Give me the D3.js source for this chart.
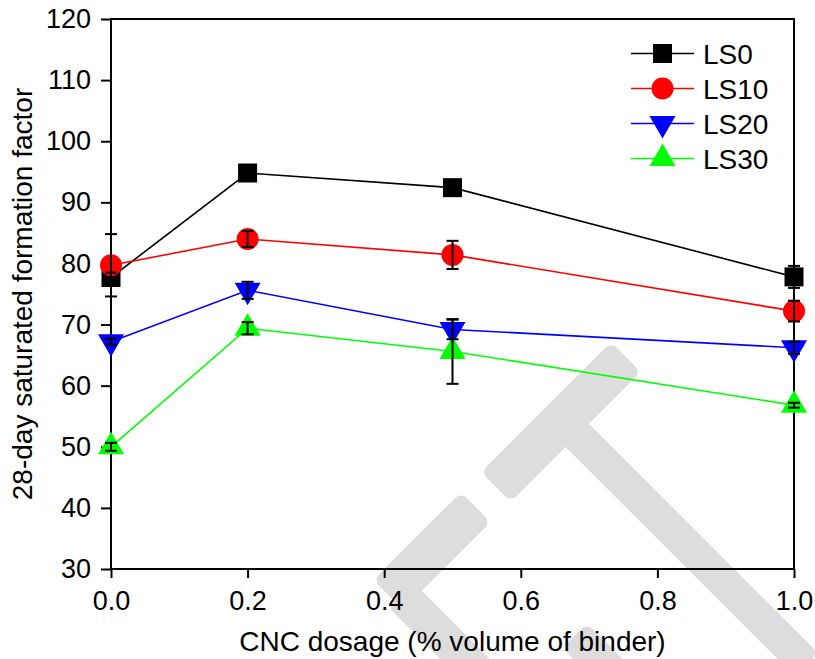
<!DOCTYPE html>
<html>
<head>
<meta charset="utf-8">
<script src="https://cdn.jsdelivr.net/npm/d3@7"></script>
<style>
  html, body { margin: 0; padding: 0; background: #fff; }
  svg { display: block; font-family: "Liberation Sans", Arial, sans-serif; }
</style>
</head>
<body>
<svg id="chart" width="815" height="659"></svg>
<script>
// ---- data ----
const xValues = [0, 0.2, 0.5, 1.0];
const seriesNames = ["LS0", "LS10", "LS20", "LS30"];
const ls0 = [77.7, 94.8, 92.4, 77.8];
const ls0Err = [0.8, 1.0, 1.0, 1.8];
const ls10 = [79.7, 84.0, 81.4, 72.2];
const ls10Err = [5.1, 1.3, 2.3, 1.7];
const ls20 = [67.2, 75.6, 69.2, 66.2];
const ls20Err = [0.5, 1.4, 1.6, 1.0];
const ls30 = [50.0, 69.4, 65.6, 56.8];
const ls30Err = [0.65, 1.0, 5.3, 0.4];
const xTicks = [0.0, 0.2, 0.4, 0.6, 0.8, 1.0];
const yTicks = [30, 40, 50, 60, 70, 80, 90, 100, 110, 120];
const xTitle = "CNC dosage (% volume of binder)";
const yTitle = "28-day saturated formation factor";

const colors = ["#000000", "#ff0000", "#0000ff", "#00ff00"];
const shapes = ["square", "circle", "triangleDown", "triangleUp"];
const values = [ls0, ls10, ls20, ls30];
const errors = [ls0Err, ls10Err, ls20Err, ls30Err];

const svg = d3.select("#chart");
const L = 111, R = 794, T = 19, B = 569;
const x = d3.scaleLinear().domain([0, 1]).range([L, R]);
const y = d3.scaleLinear().domain([30, 120]).range([B, T]);
const TICKFONT = 27, TITLEFONT = 28, LEGFONT = 28;

// ---- background watermark (decorative) ----
const wm = svg.append("g").attr("fill", "#dddddd");
function bar(cx, cy, len, w, ang) {
  wm.append("rect")
    .attr("x", -len / 2).attr("y", -w / 2)
    .attr("width", len).attr("height", w)
    .attr("rx", 8).attr("ry", 8)
    .attr("transform", `translate(${cx},${cy}) rotate(${ang})`);
}
// upper T: crossbar piece + stem
bar(561, 422, 184, 42, -45);
bar(690, 548, 330, 33, 45);
// lower-left piece: bar + leg going down-right from its lower end
bar(432, 551, 124, 42, -45);
bar(442, 636, 120, 35, 45);
// bottom tip
bar(617, 678, 120, 35, 45);

// ---- axes ----
const yAxis = d3.axisLeft(y).tickValues(yTicks).tickSize(10).tickSizeOuter(0).tickPadding(10)
  .tickFormat(d3.format("d"));
const xAxis = d3.axisBottom(x).tickValues(xTicks).tickSize(9).tickSizeOuter(0).tickPadding(13)
  .tickFormat(d3.format(".1f"));

const gy = svg.append("g").attr("transform", `translate(${L},0)`).call(yAxis);
const gx = svg.append("g").attr("transform", `translate(0,${B})`).call(xAxis);
[gx, gy].forEach(g => {
  g.selectAll("text").attr("font-size", TICKFONT).attr("fill", "#000")
    .attr("font-family", "'Liberation Sans', Arial, sans-serif");
  g.selectAll("line").attr("stroke", "#000").attr("stroke-width", 2);
  g.select(".domain").remove();
});

svg.append("rect").attr("x", L).attr("y", T).attr("width", R - L).attr("height", B - T)
  .attr("fill", "none").attr("stroke", "#000").attr("stroke-width", 2);

svg.append("text").attr("x", (L + R) / 2).attr("y", 651).attr("text-anchor", "middle")
  .attr("font-size", TITLEFONT).text(xTitle);
svg.append("text").attr("transform", `translate(32,${(T + B) / 2}) rotate(-90)`)
  .attr("text-anchor", "middle").attr("font-size", TITLEFONT).text(yTitle);

// ---- marker paths ----
function markerPath(shape) {
  if (shape === "square") { const s = 9.5; return `M${-s},${-s}H${s}V${s}H${-s}Z`; }
  if (shape === "circle") { const r = 11; return `M${r},0A${r},${r} 0 1,1 ${-r},0A${r},${r} 0 1,1 ${r},0Z`; }
  const side = 26, h = side * Math.sqrt(3) / 2;
  if (shape === "triangleUp") return `M0,${-2 * h / 3}L${side / 2},${h / 3}L${-side / 2},${h / 3}Z`;
  return `M0,${2 * h / 3}L${side / 2},${-h / 3}L${-side / 2},${-h / 3}Z`;
}

// ---- series ----
const line = d3.line().x(d => x(d.x)).y(d => y(d.v));
const plot = svg.append("g");
values.forEach((vals, i) => {
  const pts = vals.map((v, j) => ({ x: xValues[j], v }));
  const g = plot.append("g");
  g.append("path").datum(pts).attr("d", line).attr("fill", "none")
    .attr("stroke", colors[i]).attr("stroke-width", 1.6);
  g.selectAll("path.m").data(pts).join("path").attr("class", "m")
    .attr("transform", d => `translate(${x(d.x)},${y(d.v)})`)
    .attr("d", markerPath(shapes[i])).attr("fill", colors[i]);
});

// error bars on top
values.forEach((vals, i) => {
  const eg = plot.append("g").attr("stroke", "#000").attr("stroke-width", 2);
  vals.forEach((v, j) => {
    const cx = x(xValues[j]), e = errors[i][j];
    const y1 = y(v + e), y2 = y(v - e);
    eg.append("line").attr("x1", cx).attr("x2", cx).attr("y1", y1).attr("y2", y2);
    eg.append("line").attr("x1", cx - 6).attr("x2", cx + 6).attr("y1", y1).attr("y2", y1);
    eg.append("line").attr("x1", cx - 6).attr("x2", cx + 6).attr("y1", y2).attr("y2", y2);
  });
});

// ---- legend ----
const legY = [53.5, 88.5, 123.5, 158.5];
const leg = svg.append("g");
seriesNames.forEach((name, i) => {
  const ly = legY[i];
  leg.append("line").attr("x1", 631).attr("x2", 694).attr("y1", ly).attr("y2", ly)
    .attr("stroke", colors[i]).attr("stroke-width", 1.6);
  leg.append("path").attr("transform", `translate(662.5,${ly})`)
    .attr("d", markerPath(shapes[i])).attr("fill", colors[i]);
  leg.append("text").attr("x", 703).attr("y", ly + 10).attr("font-size", LEGFONT).text(name);
});
</script>
</body>
</html>
